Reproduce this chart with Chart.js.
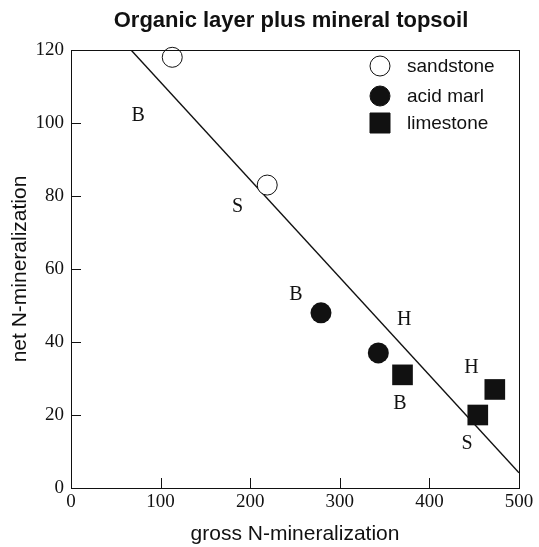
<!DOCTYPE html>
<html>
<head>
<meta charset="utf-8">
<script src="https://cdn.jsdelivr.net/npm/chart.js@4"></script>
<style>
  html,body{margin:0;padding:0;background:#fff;}
  #wrap{width:539px;height:547px;}
</style>
</head>
<body>
<div id="wrap"><canvas id="c"></canvas></div>
<script>
// values
const sandstoneX = [113, 219];
const sandstoneY = [118, 83];
const acidMarlX = [279, 343];
const acidMarlY = [48, 37];
const limestoneX = [370, 454, 473];
const limestoneY = [31, 20, 27];
const fitX = [67, 500];
const fitY = [120, 4.2];
const siteText = ['B', 'S', 'B', 'H', 'B', 'H', 'S'];
const siteX = [75, 186, 251, 372, 367, 447, 442];
const siteY = [102, 77, 53, 46, 23, 33, 12];
const xTicks = [0, 100, 200, 300, 400, 500];
const yTicks = [0, 20, 40, 60, 80, 100, 120];

const INK = '#111';
const SERIF = '"Liberation Serif", "DejaVu Serif", serif';
const SANS = '"Liberation Sans", Arial, sans-serif';

function pts(xs, ys){ return xs.map((x,i)=>({x, y:ys[i]})); }

// frame, inward ticks, site letters, legend, title
const decor = {
  id:'decor',
  afterDraw(chart){
    const {ctx, chartArea:a, scales:{x, y}} = chart;
    ctx.save();
    ctx.strokeStyle = INK; ctx.lineWidth = 1;
    ctx.strokeRect(a.left + .5, a.top + .5, a.right - a.left, a.bottom - a.top);
    ctx.beginPath();
    xTicks.forEach(v=>{ const px = Math.round(x.getPixelForValue(v)) + .5; ctx.moveTo(px, a.bottom); ctx.lineTo(px, a.bottom - 10); });
    yTicks.forEach(v=>{ const py = Math.round(y.getPixelForValue(v)) + .5; ctx.moveTo(a.left, py); ctx.lineTo(a.left + 10, py); });
    ctx.stroke();

    ctx.fillStyle = INK;
    ctx.font = '20px ' + SERIF;
    ctx.textAlign = 'center'; ctx.textBaseline = 'middle';
    siteText.forEach((t,i)=> ctx.fillText(t, x.getPixelForValue(siteX[i]), y.getPixelForValue(siteY[i])));

    // legend
    const lx = 380, ly = [66, 96, 123];
    ctx.font = '19px ' + SANS; ctx.textAlign = 'left';
    chart.data.datasets.slice(0,3).forEach((ds,i)=>{
      ctx.beginPath();
      if(ds.pointStyle === 'rect'){ ctx.rect(lx - 10, ly[i] - 10, 20, 20); }
      else { ctx.arc(lx, ly[i], 10, 0, Math.PI*2); }
      ctx.fillStyle = ds.backgroundColor; ctx.fill();
      ctx.strokeStyle = INK; ctx.stroke();
      ctx.fillStyle = INK;
      ctx.fillText(ds.label, lx + 27, ly[i] + 1);
    });

    ctx.font = 'bold 22px ' + SANS; ctx.textAlign = 'center';
    ctx.fillText('Organic layer plus mineral topsoil', 291, 21);
    ctx.restore();
  }
};

new Chart(document.getElementById('c'), {
  type:'scatter',
  data:{datasets:[
    {label:'sandstone', data:pts(sandstoneX, sandstoneY), pointStyle:'circle', pointRadius:10, backgroundColor:'#fff', borderColor:INK, borderWidth:1, clip:false},
    {label:'acid marl', data:pts(acidMarlX, acidMarlY), pointStyle:'circle', pointRadius:10.5, backgroundColor:INK, borderColor:INK, borderWidth:0, clip:false},
    {label:'limestone', data:pts(limestoneX, limestoneY), pointStyle:'rect', pointRadius:14.6, backgroundColor:INK, borderColor:INK, borderWidth:0, clip:false},
    {label:'fit', type:'line', data:pts(fitX, fitY), borderColor:INK, borderWidth:1.4, pointRadius:0, fill:false, order:5}
  ]},
  options:{
    responsive:true, maintainAspectRatio:false, animation:false,
    layout:{padding:{top:50, right:20, left:0, bottom:0}},
    plugins:{legend:{display:false}, tooltip:{enabled:false}},
    scales:{
      x:{type:'linear', min:0, max:500, grid:{display:false, drawTicks:false}, border:{display:false},
         afterBuildTicks(s){ s.ticks = xTicks.map(v=>({value:v})); },
         afterFit(s){ s.height = 59; },
         ticks:{color:INK, padding:3, maxRotation:0, font:{family:SERIF, size:19}},
         title:{display:true, text:'gross N-mineralization', color:INK, font:{family:SANS, size:21}, padding:{top:4, bottom:0}}},
      y:{min:0, max:120, grid:{display:false, drawTicks:false}, border:{display:false},
         afterBuildTicks(s){ s.ticks = yTicks.map(v=>({value:v})); },
         afterFit(s){ s.width = 71; },
         ticks:{color:INK, padding:7, font:{family:SERIF, size:19}},
         title:{display:true, text:'net N-mineralization', color:INK, font:{family:SANS, size:21}, padding:{top:8, bottom:0}}}
    }
  },
  plugins:[decor]
});
</script>
</body>
</html>
